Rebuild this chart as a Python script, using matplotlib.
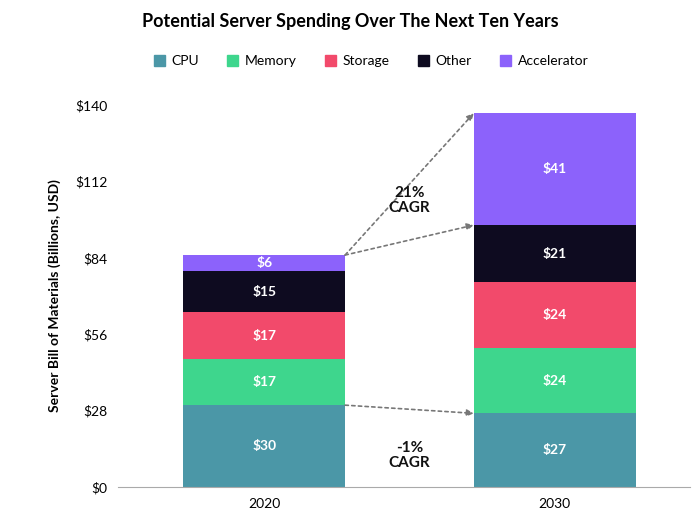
import matplotlib
matplotlib.use("Agg")
import matplotlib.pyplot as plt
from matplotlib.patches import Patch

plt.rcParams["font.family"] = "Lato"

years = ["2020", "2030"]
categories = ["CPU", "Memory", "Storage", "Other", "Accelerator"]
values_2020 = [30, 17, 17, 15, 6]
values_2030 = [27, 24, 24, 21, 41]
colors = ["#4b97a7", "#3ed68d", "#f24a6b", "#0e0b20", "#8c62fb"]
yticks = [0, 28, 56, 84, 112, 140]

fig = plt.figure(figsize=(7, 5.24), dpi=100)
ax = fig.add_axes([0.169, 0.0706, 0.816, 0.729])

data = [values_2020, values_2030]
w = 0.557
for xi, vals in enumerate(data):
    bottom = 0
    for v, c in zip(vals, colors):
        ax.bar(xi, v, w, bottom=bottom, color=c, edgecolor="none")
        ax.text(xi, bottom + v / 2, f"${v}", ha="center", va="center",
                color="white", fontsize=10, fontweight="bold")
        bottom += v

ax.set_xlim(-0.502, 1.464)
ax.set_ylim(0, 140)
ax.set_xticks([0, 1])
ax.set_xticklabels(years, fontsize=10)
ax.set_yticks(yticks)
ax.set_yticklabels([f"${t}" for t in yticks], fontsize=10)
ax.tick_params(length=0, pad=8)
for s in ["top", "right", "left"]:
    ax.spines[s].set_visible(False)
ax.spines["bottom"].set_color("#aaaaaa")
ax.set_ylabel("Server Bill of Materials (Billions, USD)", fontsize=10,
              fontweight="bold", labelpad=10)

t20 = sum(values_2020)
t30 = sum(values_2030)
x0, x1 = w / 2, 1 - w / 2
arrowprops = dict(arrowstyle="-|>", linestyle=(0, (2, 2)), color="#777777",
                  lw=1.2, mutation_scale=10, shrinkA=0, shrinkB=0)
ax.annotate("", xy=(x1, t30), xytext=(x0, t20), arrowprops=arrowprops)
ax.annotate("", xy=(x1, t30 - values_2030[-1]), xytext=(x0, t20), arrowprops=arrowprops)
ax.annotate("", xy=(x1, values_2030[0]), xytext=(x0, values_2020[0]), arrowprops=arrowprops)
ax.text(0.5, 105, "21%\nCAGR", ha="center", va="center", fontsize=11,
        fontweight="bold", color="#111111", linespacing=1.1)
ax.text(0.5, 11.5, "-1%\nCAGR", ha="center", va="center", fontsize=11,
        fontweight="bold", color="#111111", linespacing=1.1)

fig.suptitle("Potential Server Spending Over The Next Ten Years", y=0.975,
             fontsize=13, fontweight="bold")
handles = [Patch(color=c) for c in colors]
fig.legend(handles, categories, loc="center", bbox_to_anchor=(0.53, 0.883),
           ncol=5, frameon=False, fontsize=10, handlelength=0.8, handleheight=0.8,
           columnspacing=2.0, handletextpad=0.5)

fig.savefig("out.png", dpi=100)
